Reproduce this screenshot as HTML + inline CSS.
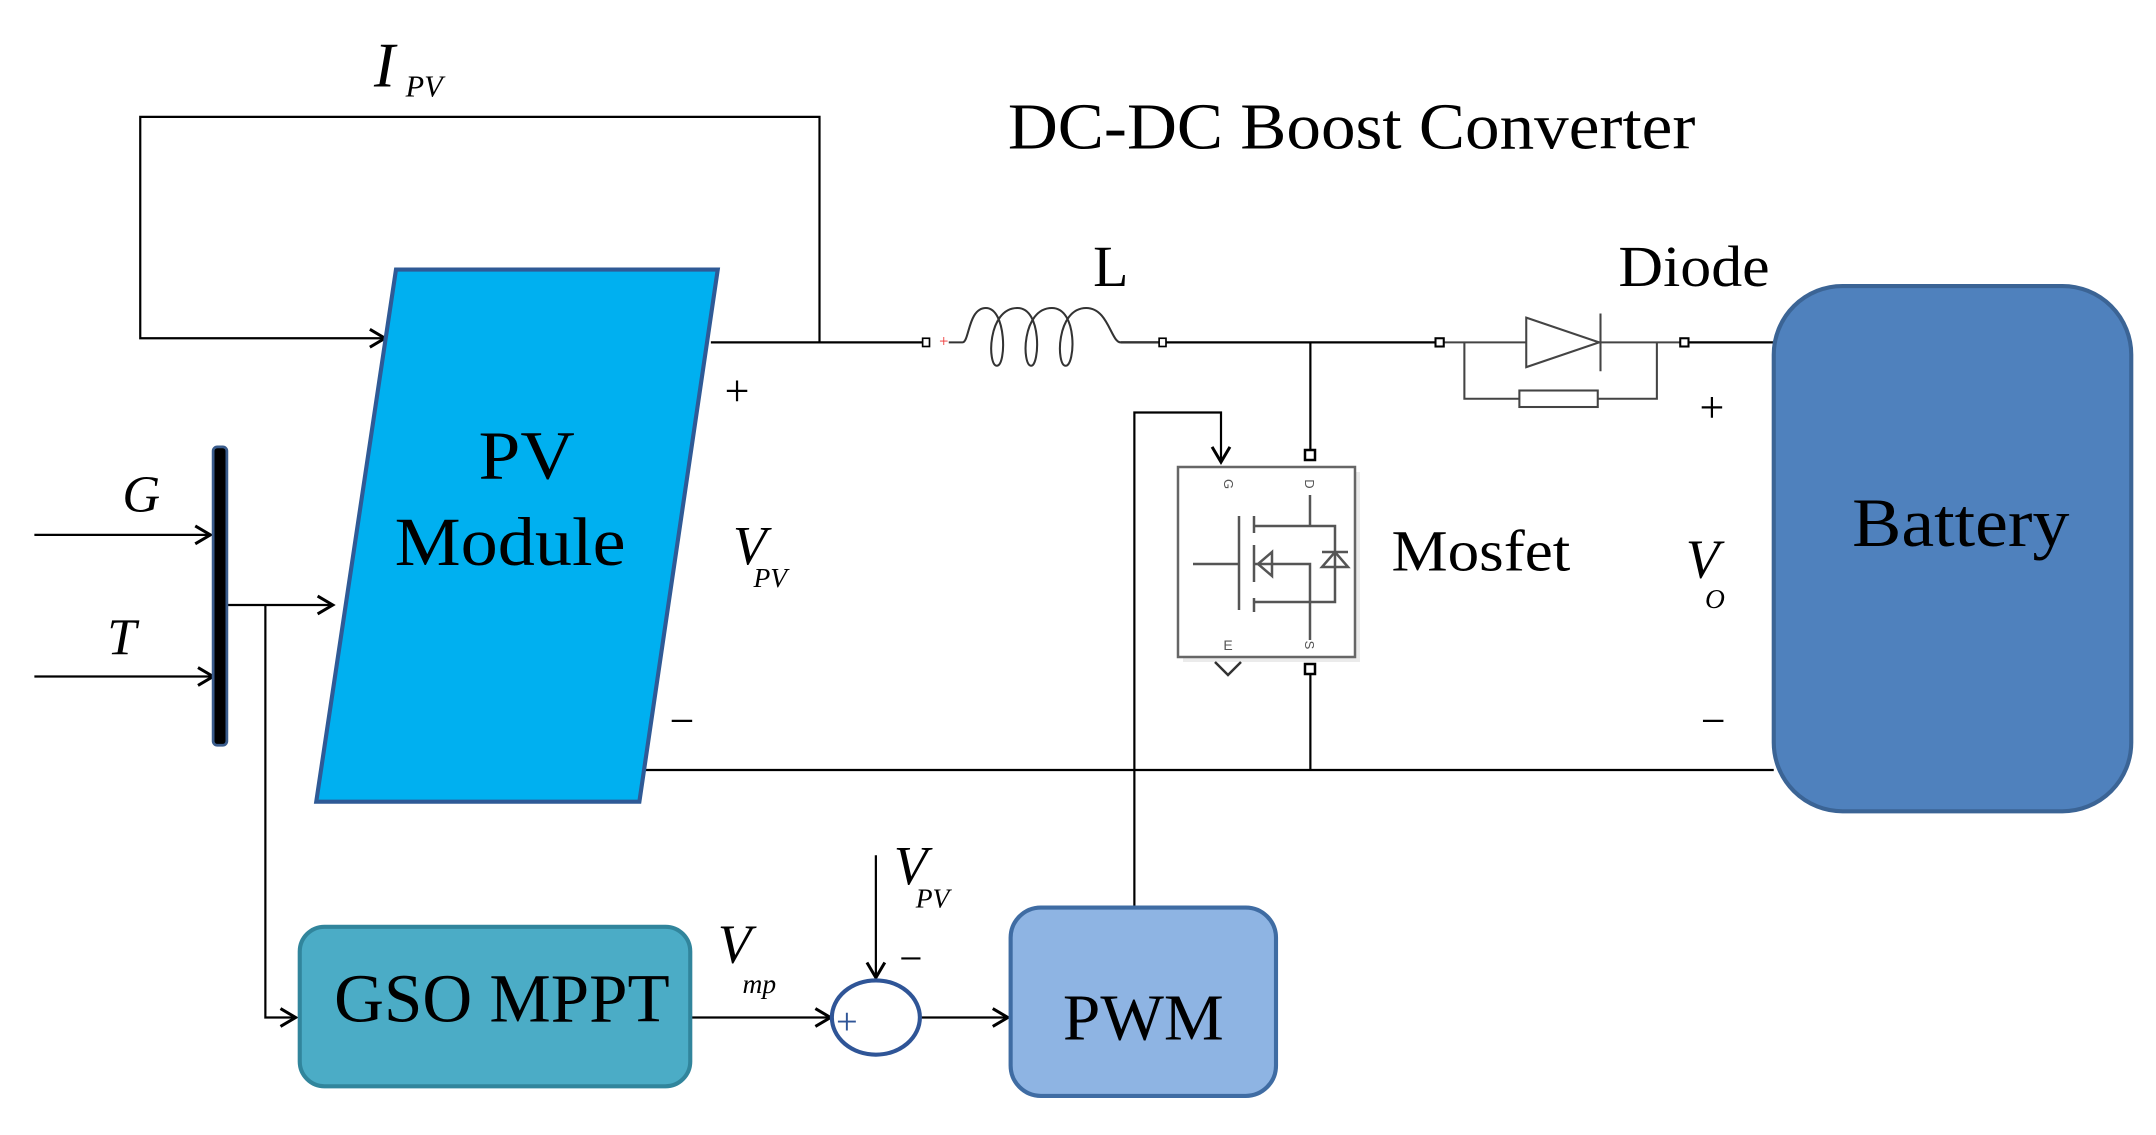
<!DOCTYPE html>
<html><head><meta charset="utf-8"><style>
html,body{margin:0;padding:0;background:#fff;width:2156px;height:1135px;overflow:hidden}
svg{display:block}
text{font-family:"Liberation Serif",serif;fill:#000}
.i{font-style:italic}
</style></head><body>
<svg width="2156" height="1135" viewBox="0 0 1568 825.45" xmlns="http://www.w3.org/2000/svg">
<defs>
<marker id="a" markerWidth="16" markerHeight="16" refX="13" refY="8" orient="auto" markerUnits="userSpaceOnUse">
<path d="M2,1.5 L13,8 L2,14.5" fill="none" stroke="#000" stroke-width="2.2"/>
</marker>
</defs>
<g fill="none" stroke="#000" stroke-width="1.6">
<path d="M596,249 L596,85 L102,85 L102,246 L280,246" marker-end="url(#a)"/>
<line x1="517" y1="249" x2="673" y2="249"/>
<line x1="815" y1="249" x2="1047" y2="249"/>
<line x1="1225" y1="249" x2="1290" y2="249"/>
<line x1="465" y1="560" x2="1290" y2="560"/>
<line x1="953" y1="249" x2="953" y2="330"/>
<line x1="953" y1="487" x2="953" y2="560"/>
<path d="M825,660 L825,300 L888,300 L888,336" marker-end="url(#a)"/>
<line x1="25" y1="389" x2="153" y2="389" marker-end="url(#a)"/>
<line x1="25" y1="492" x2="155" y2="492" marker-end="url(#a)"/>
<line x1="165" y1="440" x2="242" y2="440" marker-end="url(#a)"/>
<path d="M193,440 L193,740 L215,740" marker-end="url(#a)"/>
<line x1="502" y1="740" x2="604" y2="740" marker-end="url(#a)"/>
<line x1="637" y1="622" x2="637" y2="711" marker-end="url(#a)"/>
<line x1="670" y1="740" x2="733" y2="740" marker-end="url(#a)"/>
</g>
<rect x="671" y="246" width="5" height="6" fill="#fff" stroke="#000" stroke-width="1.2"/>
<text x="683" y="252" font-size="12" style="fill:#e33">+</text>
<path d="M690,249 L700,249 C705,249 704,224 717,224 C732,224 732,266 725,266 C718,266 718,224 740,224 C758,224 756,266 750,266 C743,266 743,224 765,224 C784,224 782,266 775,266 C768,266 768,224 790,224 C806,224 808,249 815,249 L843,249" fill="none" stroke="#333" stroke-width="1.5"/>
<rect x="843" y="246" width="5" height="6" fill="#fff" stroke="#000" stroke-width="1.2"/>
<g stroke="#444" stroke-width="1.5" fill="none">
<line x1="1050" y1="249" x2="1222" y2="249"/>
<path d="M1110,231 L1163,249 L1110,267 Z" fill="#fff"/>
<line x1="1164" y1="228" x2="1164" y2="270"/>
<path d="M1065,249 L1065,290 L1105,290 M1162,290 L1205,290 L1205,249"/>
<rect x="1105" y="284" width="57" height="12" fill="#fff"/>
</g>
<rect x="1044" y="246" width="6" height="6" fill="#fff" stroke="#000" stroke-width="1.5"/>
<rect x="1222" y="246" width="6" height="6" fill="#fff" stroke="#000" stroke-width="1.5"/>
<g transform="scale(0.72727)" fill="none" stroke="#555" stroke-width="2.5">
<rect x="1183" y="472" width="177" height="190" fill="#ddd" stroke="none" opacity="0.6"/>
<rect x="1178" y="467" width="177" height="190" fill="#fff" stroke="#666" stroke-width="2.5"/>
<rect x="1305" y="450" width="10" height="10" fill="#fff" stroke="#000"/>
<rect x="1305" y="664" width="10" height="10" fill="#fff" stroke="#000"/>
<path d="M1215,662 L1228,675 L1241,662" stroke="#333"/>
<line x1="1193" y1="564" x2="1239" y2="564"/>
<line x1="1239" y1="516" x2="1239" y2="610"/>
<line x1="1254" y1="516" x2="1254" y2="533"/>
<line x1="1254" y1="545" x2="1254" y2="582"/>
<line x1="1254" y1="598" x2="1254" y2="612"/>
<path d="M1254,526 L1335,526 L1335,602 L1254,602"/>
<path d="M1254,564 L1310,564 L1310,640"/>
<line x1="1310" y1="495" x2="1310" y2="526"/>
<path d="M1272,552 L1272,576 L1258,564 Z"/>
<path d="M1322,567 L1348,567 L1335,552 Z M1322,552 L1348,552"/>
<text x="1228" y="488" font-size="13" style="fill:#555;font-family:'Liberation Sans',sans-serif" stroke="none" text-anchor="middle" transform="rotate(90 1228 484)">G</text>
<text x="1310" y="489" font-size="13" style="fill:#555;font-family:'Liberation Sans',sans-serif" stroke="none" text-anchor="middle" transform="rotate(90 1310 484)">D</text>
<text x="1228" y="650" font-size="14" style="fill:#555;font-family:'Liberation Sans',sans-serif" stroke="none" text-anchor="middle">E</text>
<text x="1310" y="650" font-size="13" style="fill:#555;font-family:'Liberation Sans',sans-serif" stroke="none" text-anchor="middle" transform="rotate(90 1310 645)">S</text>
</g>
<polygon points="288,196 522,196 465,583 230,583" fill="#00B0F0" stroke="#2F5A96" stroke-width="3"/>
<text x="348" y="348" font-size="50" textLength="70" lengthAdjust="spacingAndGlyphs">PV</text>
<text x="287" y="411" font-size="50" textLength="168" lengthAdjust="spacingAndGlyphs">Module</text>
<rect x="155" y="325" width="10" height="217" rx="3" fill="#000" stroke="#3A5C8C" stroke-width="2"/>
<rect x="1290" y="208" width="260" height="382" rx="50" fill="#4F81BD" stroke="#3B6495" stroke-width="3"/>
<text x="1347" y="397" font-size="50" textLength="158" lengthAdjust="spacingAndGlyphs">Battery</text>
<rect x="218" y="674" width="284" height="116" rx="18" fill="#4BACC6" stroke="#31859C" stroke-width="3"/>
<text x="243" y="743" font-size="50" textLength="244" lengthAdjust="spacingAndGlyphs">GSO MPPT</text>
<rect x="735" y="660" width="193" height="137" rx="22" fill="#8EB4E3" stroke="#3F6CA3" stroke-width="3"/>
<text x="773" y="756" font-size="48" textLength="117" lengthAdjust="spacingAndGlyphs">PWM</text>
<ellipse cx="637" cy="740" rx="32" ry="27" fill="#fff" stroke="#2F5597" stroke-width="3"/>
<text x="608" y="752" font-size="28" style="fill:#2F5597">+</text>
<text x="654" y="707" font-size="30">−</text>
<text x="272" y="63" font-size="46" class="i">I</text>
<text x="295" y="70" font-size="22" class="i">PV</text>
<text x="733" y="108" font-size="48" textLength="500" lengthAdjust="spacingAndGlyphs">DC-DC Boost Converter</text>
<text x="795" y="208" font-size="42">L</text>
<text x="1177" y="208" font-size="42" textLength="110" lengthAdjust="spacingAndGlyphs">Diode</text>
<text x="527" y="295" font-size="32">+</text>
<text x="533" y="410" font-size="40" class="i">V</text>
<text x="548" y="427" font-size="20" class="i">PV</text>
<text x="487" y="535" font-size="32">−</text>
<text x="1012" y="415" font-size="42" textLength="130" lengthAdjust="spacingAndGlyphs">Mosfet</text>
<text x="1236" y="307" font-size="32">+</text>
<text x="1226" y="420" font-size="40" class="i">V</text>
<text x="1240" y="442" font-size="20" class="i">O</text>
<text x="1237" y="535" font-size="32">−</text>
<text x="89" y="372" font-size="38" class="i">G</text>
<text x="78" y="476" font-size="38" class="i">T</text>
<text x="522" y="700" font-size="40" class="i">V</text>
<text x="540" y="722" font-size="20" class="i">mp</text>
<text x="650" y="643" font-size="40" class="i">V</text>
<text x="666" y="660" font-size="20" class="i">PV</text>
</svg>
</body></html>
